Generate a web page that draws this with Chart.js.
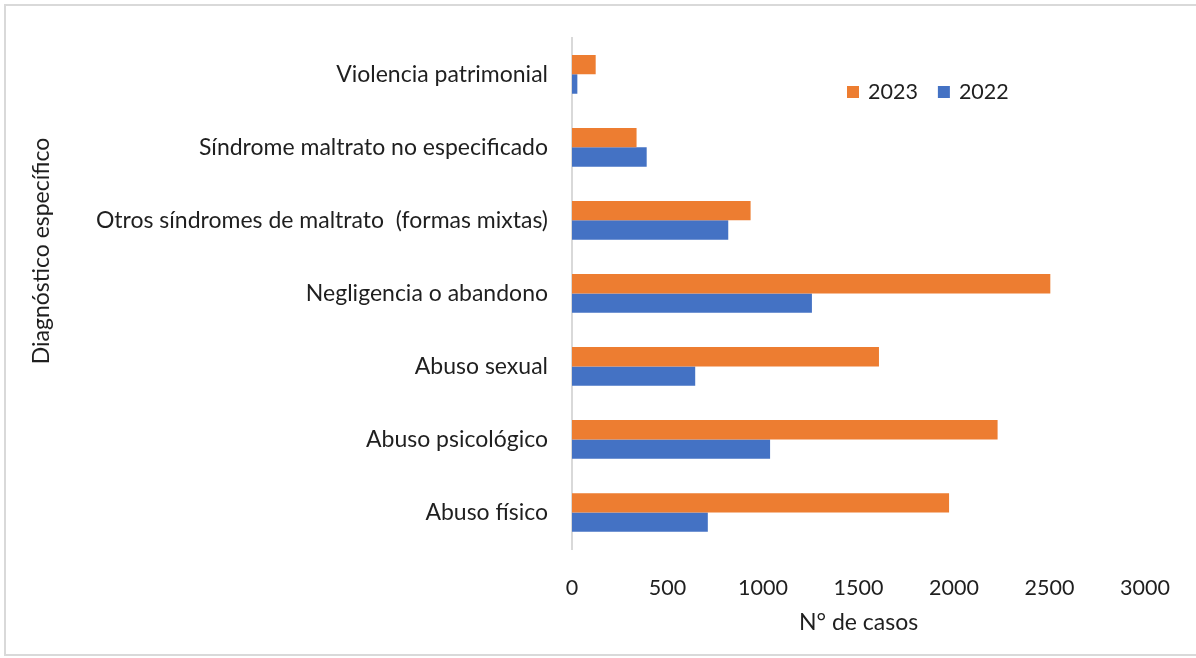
<!DOCTYPE html>
<html><head><meta charset="utf-8">
<script src="https://cdn.jsdelivr.net/npm/chart.js@4.4.1/dist/chart.umd.min.js"></script>
<style>
html,body{margin:0;padding:0;background:#fff;overflow:hidden}
#wrap{position:relative;width:1196px;height:658px}
#frame{position:absolute;left:4px;top:4px;width:1210px;height:648px;border:2px solid #d9d9d9;pointer-events:none}
</style></head><body>
<div id="wrap"><canvas id="c" width="1196" height="658"></canvas><div id="frame"></div></div>
<script>
const categories = [
  'Violencia patrimonial',
  'Síndrome maltrato no especificado',
  'Otros síndromes de maltrato  (formas mixtas)',
  'Negligencia o abandono',
  'Abuso sexual',
  'Abuso psicológico',
  'Abuso físico'
];
const seriesLabels = ['2023', '2022'];
const values2023 = [124, 338, 935, 2504, 1607, 2228, 1974];
const values2022 = [28, 391, 818, 1256, 645, 1037, 711];
const xTickValues = [0, 500, 1000, 1500, 2000, 2500, 3000];
const xAxisTitle = 'N° de casos';
const yAxisTitle = 'Diagnóstico específico';

const FONT = 'Lato, "Open Sans", sans-serif';
const FSIZE = 23;
const NSIZE = 21.5;
const TXT = '#1f1f1f';
const colors = ['#ED7D31', '#4472C4'];

const extras = {
  id: 'extras',
  afterDraw(chart) {
    const ctx = chart.ctx;
    ctx.save();
    ctx.fillStyle = TXT;
    // y-axis title
    ctx.font = FSIZE + 'px ' + FONT;
    ctx.save();
    ctx.translate(42, 251);
    ctx.rotate(-Math.PI / 2);
    ctx.textAlign = 'center';
    ctx.textBaseline = 'middle';
    ctx.fillText(yAxisTitle, 0, 0);
    ctx.restore();
    // legend
    ctx.font = NSIZE + 'px ' + FONT;
    let x = 847;
    const yMid = 92;
    ctx.textBaseline = 'middle';
    ctx.textAlign = 'left';
    chart.data.datasets.forEach((ds, i) => {
      ctx.fillStyle = ds.backgroundColor;
      ctx.fillRect(x, yMid - 6, 12, 12);
      ctx.fillStyle = TXT;
      ctx.fillText(ds.label, x + 21, yMid);
      x += 21 + ctx.measureText(ds.label).width + 20;
    });
    ctx.restore();
  }
};

new Chart(document.getElementById('c'), {
  type: 'bar',
  data: {
    labels: categories,
    datasets: [
      { label: seriesLabels[0], data: values2023, backgroundColor: colors[0] },
      { label: seriesLabels[1], data: values2022, backgroundColor: colors[1] }
    ]
  },
  options: {
    indexAxis: 'y',
    responsive: false,
    animation: false,
    layout: { padding: { top: 35, right: 49, left: 0, bottom: 0 } },
    datasets: { bar: { categoryPercentage: 0.53, barPercentage: 1 } },
    plugins: { legend: { display: false }, tooltip: { enabled: false } },
    scales: {
      x: {
        min: xTickValues[0], max: xTickValues[xTickValues.length - 1],
        afterBuildTicks(s) { s.ticks = xTickValues.map(v => ({ value: v })); },
        ticks: { padding: 26, color: TXT, font: { family: FONT, size: NSIZE }, callback: v => String(v), maxRotation: 0 },
        grid: { display: false, drawTicks: false },
        border: { display: false },
        title: { display: true, text: xAxisTitle, color: TXT, font: { family: FONT, size: FSIZE }, padding: { top: 0, bottom: 22 } },
        afterFit(s) { s.height = 109; }
      },
      y: {
        ticks: { padding: 24, color: TXT, font: { family: FONT, size: FSIZE }, autoSkip: false },
        grid: { display: false, drawTicks: false },
        border: { color: '#d9d9d9', width: 2 },
        afterFit(s) { s.width = 572; }
      }
    }
  },
  plugins: [extras]
});
</script>
</body></html>
